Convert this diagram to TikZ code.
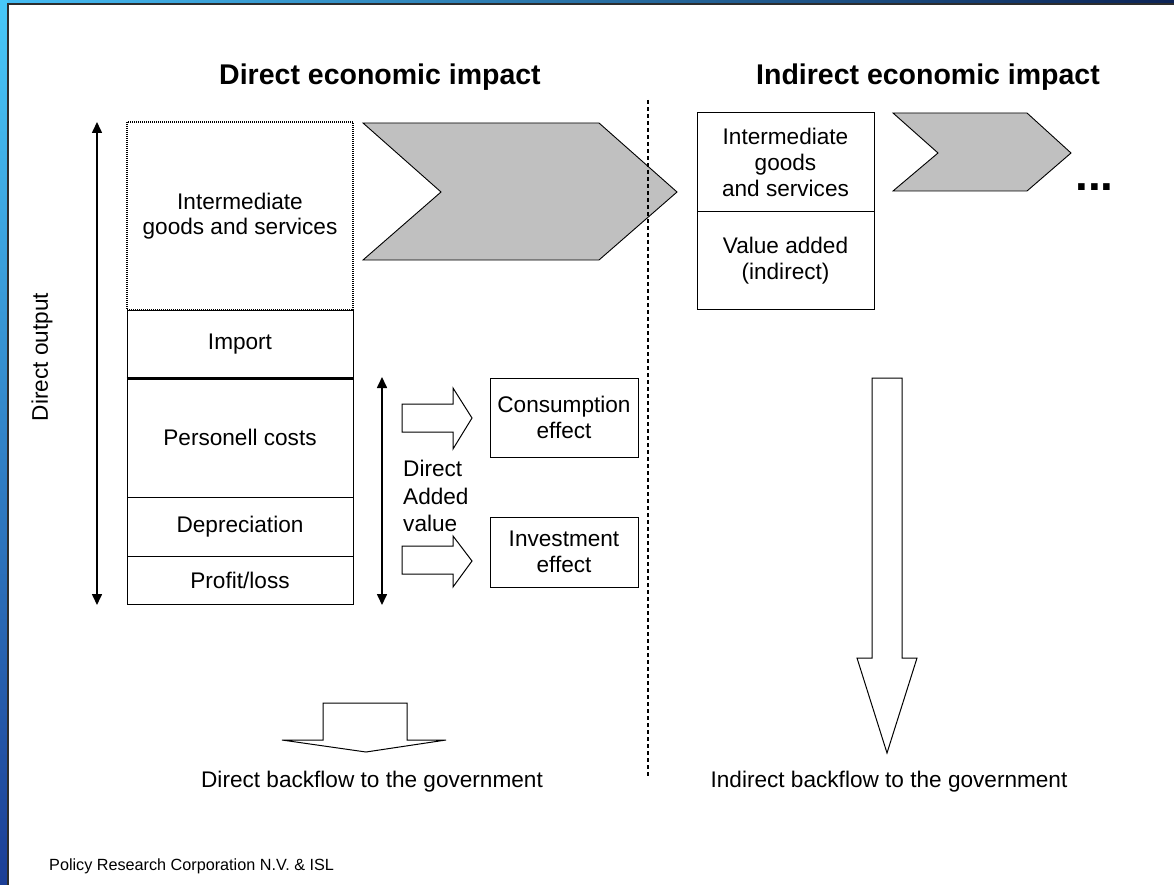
\documentclass[tikz,border=0pt]{standalone}
\usepackage{fontspec}
\setmainfont{Liberation Sans}
\usetikzlibrary{arrows.meta}
\definecolor{chevgray}{RGB}{192,192,192}
\definecolor{topL}{RGB}{70,190,245}
\definecolor{topR}{RGB}{12,35,85}
\definecolor{leftT}{RGB}{72,200,248}
\definecolor{leftB}{RGB}{28,62,150}
\definecolor{framec}{RGB}{45,45,45}
\begin{document}
\begin{tikzpicture}[x=1pt,y=-1pt,
  txt/.style={font=\fontsize{22.6}{25.5}\selectfont, inner sep=0pt, align=center},
  box/.style={txt, draw, line width=1pt},
  title/.style={font=\fontsize{28.5}{30}\selectfont\bfseries, inner sep=0pt, anchor=base},
  chev/.style={fill=chevgray, draw=black, line width=0.9pt},
  blk/.style={draw=black, fill=white, line width=1pt},
  dbl/.style={{Triangle[length=11pt,width=10pt]}-{Triangle[length=11pt,width=10pt]}, line width=1.6pt},
]
\useasboundingbox (0,0) rectangle (1174,885);
\fill[white] (0,0) rectangle (1174,885);
\shade[left color=topL, right color=topR] (0,0) rectangle (1174,4);
\shade[top color=leftT, bottom color=leftB] (0,0) rectangle (8,885);
\draw[framec, line width=1.5pt] (8,885) -- (8,4) -- (1174,4);

% titles
\node[title] (t1) at (380,85) {Direct economic impact};
\node[title] (t2) at (928,85) {Indirect economic impact};

% chevrons
\filldraw[chev] (363,123) -- (599,123) -- (677,192) -- (599,260) -- (363,260) -- (441,192) -- cycle;
\filldraw[chev] (893,113) -- (1027,113) -- (1071,153) -- (1027,191) -- (893,191) -- (938,153) -- cycle;
\node[font=\fontsize{46}{46}\selectfont\bfseries, inner sep=0pt, anchor=base west] (dots) at (1075,191) {...};

% dashed divider
\coordinate (dtop) at (648,100);
\coordinate (dbot) at (648,778);
\draw[dashed, dash pattern=on 4pt off 3pt, line width=1.5pt] (dtop) -- (dbot);

% direct stack
\node[box, densely dotted, line width=1.2pt, minimum width=226pt, minimum height=188pt] (inter) at (240,216) {Intermediate\\goods and services};
\node[box, minimum width=226pt, minimum height=68pt] (import) at (240,344) {Import};
\node[box, minimum width=226pt, minimum height=119pt] (pers) at (240,437.5) {Personell costs};
\node[box, minimum width=226pt, minimum height=59pt] (depr) at (240,526.5) {Depreciation};
\node[box, minimum width=226pt, minimum height=48pt] (profit) at (240,580) {Profit/loss};
\draw[line width=3pt] (import.south west) -- (import.south east);

% direct output arrow
\coordinate (dotop) at (97,122);
\coordinate (dobot) at (97,605);
\draw[dbl] (dobot) -- (dotop);
\node[txt, rotate=90] (dout) at (42,357) {Direct output};

% direct added value arrow
\coordinate (davtop) at (382,377);
\coordinate (davbot) at (382,605);
\draw[dbl] (davbot) -- (davtop);
\node[txt, align=left, anchor=west, font=\fontsize{22.6}{27.5}\selectfont] (dav) at (403,496) {Direct\\Added\\value};

% effect boxes
\node[box, minimum width=148pt, minimum height=79pt] (cons) at (564,417.5) {Consumption\\effect};
\node[box, minimum width=148pt, minimum height=70pt] (inv) at (564,552) {Investment\\effect};

% hollow right arrows
\draw[blk] (402,404) -- (453,404) -- (453,388) -- (472,418) -- (453,449) -- (453,432) -- (402,432) -- cycle;
\draw[blk] (402,546) -- (453,546) -- (453,536) -- (472,561) -- (453,587) -- (453,574) -- (402,574) -- cycle;

% indirect boxes
\node[box, minimum width=177pt, minimum height=99pt] (iinter) at (785.5,162.5) {Intermediate\\[0.5pt]goods\\[0.5pt]and services};
\node[box, minimum width=177pt, minimum height=97pt] (ival) at (785.5,260.5) {Value added\\(indirect)};

% backflow arrows
\draw[blk] (323,703) -- (407,703) -- (407,740) -- (446,740) -- (366,752) -- (282,740) -- (323,740) -- cycle;
\draw[blk] (872,378) -- (902,378) -- (902,658) -- (917,658) -- (887,753) -- (857,658) -- (872,658) -- cycle;

\node[txt, anchor=base] (dback) at (372,787) {Direct backflow to the government};
\node[txt, anchor=base] (iback) at (889,787) {Indirect backflow to the government};

\node[font=\fontsize{16.2}{18}\selectfont, inner sep=0pt, anchor=base west] (credit) at (49,870) {Policy Research Corporation N.V. \& ISL};
\end{tikzpicture}
\end{document}
